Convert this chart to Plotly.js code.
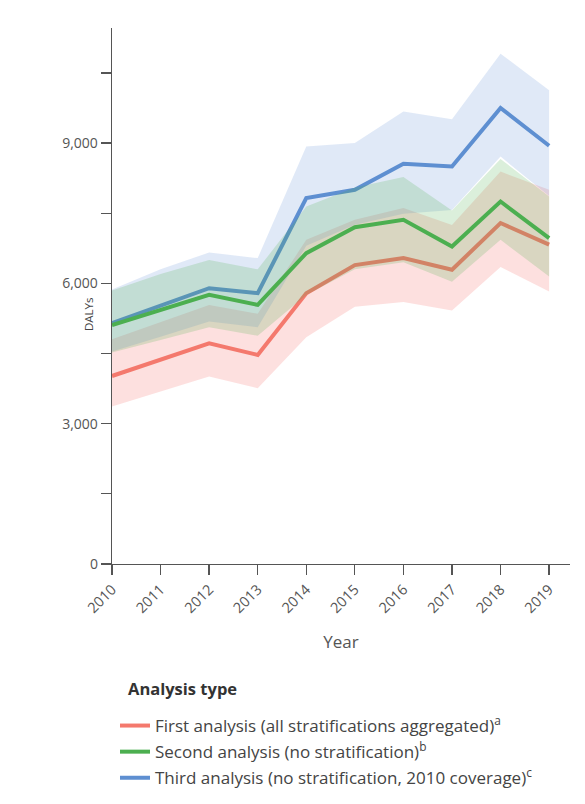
<!DOCTYPE html>
<html>
<head>
<meta charset="utf-8">
<script src="https://cdn.plot.ly/plotly-3.0.1.min.js"></script>
<style>
  html, body { margin: 0; padding: 0; background: #ffffff; }
  #chart { width: 585px; height: 804px; }
</style>
</head>
<body>
<div id="chart"></div>
<script>
// ---- Data ----
const years = [2010, 2011, 2012, 2013, 2014, 2015, 2016, 2017, 2018, 2019];

const firstMean  = [4020, 4370, 4720, 4470, 5790, 6390, 6540, 6290, 7290, 6830];
const firstLower = [3365, 3690, 4010, 3758, 4850, 5500, 5600, 5420, 6350, 5825];
const firstUpper = [4806, 5170, 5540, 5350, 6930, 7360, 7610, 7250, 8390, 8000];

const secondMean  = [5110, 5440, 5754, 5540, 6646, 7200, 7358, 6788, 7750, 6967];
const secondLower = [4520, 4790, 5062, 4880, 5750, 6300, 6450, 6037, 6932, 6146];
const secondUpper = [5850, 6200, 6500, 6300, 7644, 8050, 8272, 7560, 8660, 7860];

const thirdMean  = [5150, 5520, 5897, 5790, 7822, 8000, 8558, 8500, 9750, 8943];
const thirdLower = [4542, 4860, 5183, 5062, 6803, 7252, 7487, 7570, 8710, 7870];
const thirdUpper = [5870, 6300, 6660, 6540, 8929, 9000, 9676, 9511, 10910, 10127];

const seriesNames = [
  'First analysis (all stratifications aggregated)<sup>a</sup>',
  'Second analysis (no stratification)<sup>b</sup>',
  'Third analysis (no stratification, 2010 coverage)<sup>c</sup>'
];
const legendTitle = 'Analysis type';
const xTitle = 'Year';
const yTitle = 'DALYs';

const yTickVals = [0, 3000, 6000, 9000];
const yTickText = ['0', '3,000', '6,000', '9,000'];
const xTickVals = years;
const xTickText = years.map(String);

// ---- Styles ----
const lineColors = ['#F4796D', '#4CAF50', '#5E8FD1'];
const fillColors = ['rgba(248,112,108,0.22)', 'rgba(77,175,74,0.2)', 'rgba(90,140,210,0.19)'];
const FONT = 'Open Sans, Noto Sans, sans-serif';

function band(upper, lower, color) {
  return {
    x: years.concat(years.slice().reverse()),
    y: upper.concat(lower.slice().reverse()),
    type: 'scatter', mode: 'lines', fill: 'toself',
    fillcolor: color, line: { width: 0, color: 'rgba(0,0,0,0)' },
    hoverinfo: 'skip', showlegend: false
  };
}
function line(y, color, name, rank) {
  return {
    x: years, y: y, type: 'scatter', mode: 'lines', name: name,
    line: { color: color, width: 4 }, legendrank: rank, legendgroup: 'g' + rank
  };
}

const traces = [
  band(firstUpper, firstLower, fillColors[0]),
  line(firstMean, lineColors[0], seriesNames[0], 1),
  band(thirdUpper, thirdLower, fillColors[2]),
  line(thirdMean, lineColors[2], seriesNames[2], 3),
  band(secondUpper, secondLower, fillColors[1]),
  line(secondMean, lineColors[1], seriesNames[1], 2)
];

const layout = {
  width: 585, height: 804,
  margin: { l: 112, r: 15, t: 28, b: 240, autoexpand: false },
  paper_bgcolor: '#ffffff', plot_bgcolor: '#ffffff',
  font: { family: FONT, color: '#444444' },
  showlegend: true,
  xaxis: {
    range: [2010, 2019.43], automargin: false,
    tickmode: 'array', tickvals: xTickVals, ticktext: xTickText,
    tickangle: -45, ticks: 'outside', ticklen: 10, tickwidth: 1.3, tickcolor: '#555555',
    showline: true, linecolor: '#555555', linewidth: 1.3,
    showgrid: false, zeroline: false,
    tickfont: { size: 14.5, color: '#555555', family: FONT },
    title: { text: xTitle, font: { size: 17, color: '#555555', family: FONT }, standoff: 20 }
  },
  yaxis: {
    range: [0, 11460], automargin: false,
    tickmode: 'array', tickvals: yTickVals, ticktext: yTickText,
    ticks: 'outside', ticklen: 10, tickwidth: 1.3, tickcolor: '#555555',
    minor: { dtick: 1500, tick0: 0, ticks: 'outside', ticklen: 10, tickwidth: 1.3, tickcolor: '#555555', showgrid: false },
    showline: true, linecolor: '#555555', linewidth: 1.3,
    showgrid: false, zeroline: false,
    tickfont: { size: 14, color: '#555555', family: FONT }
  },
  annotations: [
    {
      text: yTitle, textangle: -90, showarrow: false,
      xref: 'paper', yref: 'paper', x: (89 - 112) / 458, y: (564 - 314) / 536,
      xanchor: 'center', yanchor: 'middle',
      font: { size: 11.5, color: '#444444', family: FONT }
    },
    {
      text: '<b>' + legendTitle + '</b>', showarrow: false,
      xref: 'paper', yref: 'paper', x: (126 - 112) / 458, y: (564 - 688) / 536,
      xanchor: 'left', yanchor: 'middle',
      font: { size: 16.5, color: '#333333', family: FONT }
    }
  ],
  legend: {
    xref: 'container', yref: 'container',
    x: 115 / 585, xanchor: 'left', y: 1 - 708 / 804, yanchor: 'top',
    orientation: 'v', tracegroupgap: 1,
    font: { size: 17, color: '#444444', family: FONT },
    bgcolor: 'rgba(0,0,0,0)'
  }
};

Plotly.newPlot('chart', traces, layout, { displayModeBar: false, staticPlot: true });
</script>
</body>
</html>
